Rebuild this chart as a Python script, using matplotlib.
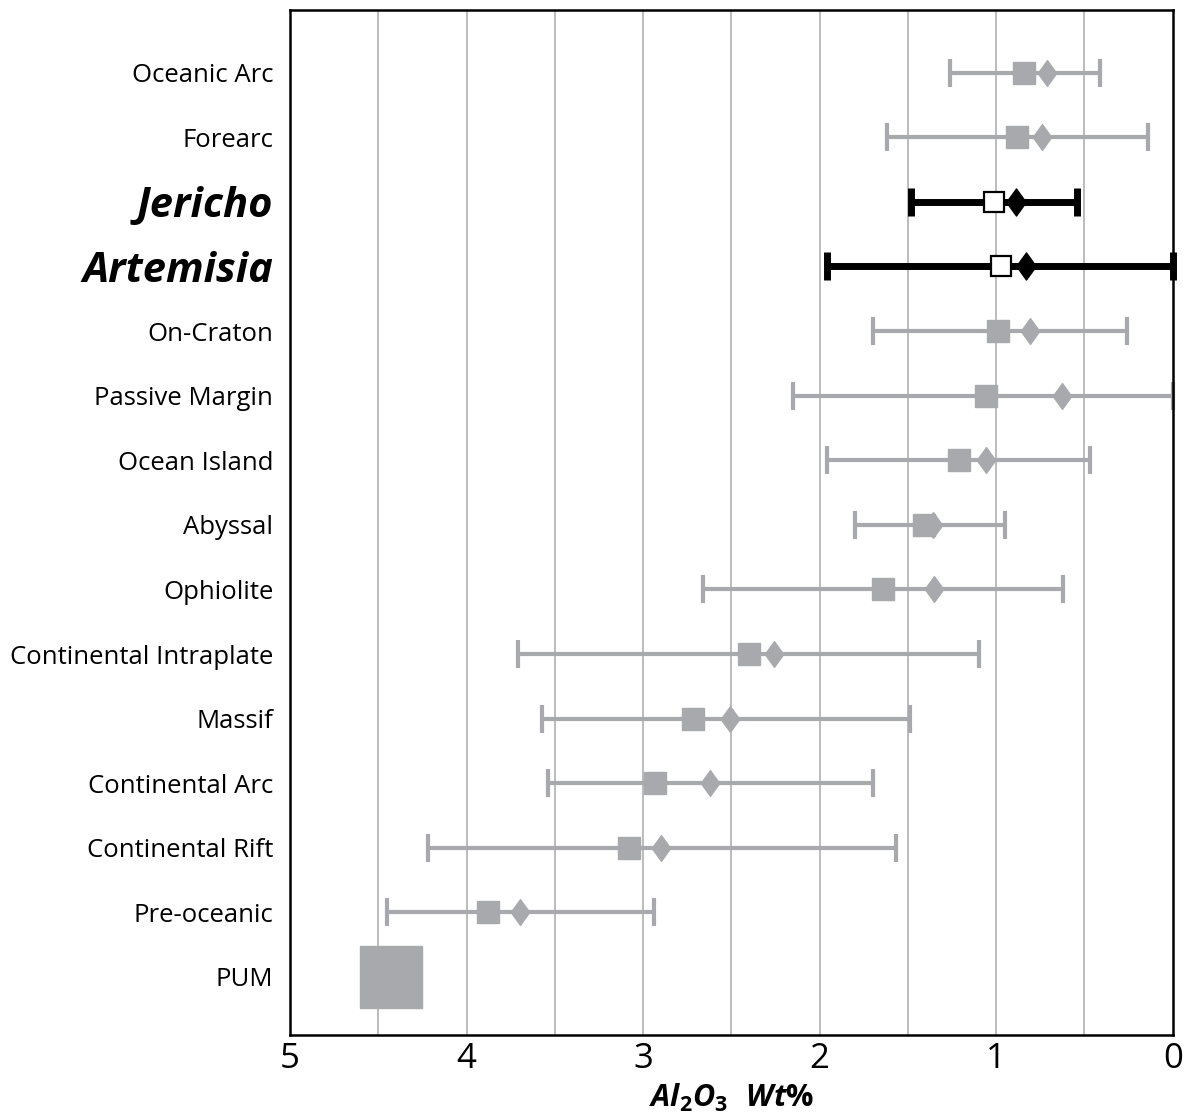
import numpy as np
import matplotlib
matplotlib.use("Agg")
import matplotlib.pyplot as plt
from matplotlib.path import Path

plt.rcParams["font.family"] = ["Open Sans", "DejaVu Sans"]
plt.rcParams["mathtext.fontset"] = "custom"
plt.rcParams["mathtext.it"] = "Open Sans:italic:bold"
plt.rcParams["mathtext.rm"] = "Open Sans:bold"

# ---- data (Al2O3 wt%) ----
categories = ["Oceanic Arc", "Forearc", "Jericho", "Artemisia", "On-Craton",
              "Passive Margin", "Ocean Island", "Abyssal", "Ophiolite",
              "Continental Intraplate", "Massif", "Continental Arc",
              "Continental Rift", "Pre-oceanic", "PUM"]
highlight = ["Jericho", "Artemisia"]
mean_vals = [0.84, 0.88, 1.01, 0.97, 0.99, 1.06, 1.21, 1.41, 1.64,
             2.40, 2.72, 2.93, 3.08, 3.88, 4.43]
median_vals = [0.71, 0.74, 0.89, 0.83, 0.81, 0.63, 1.06, 1.36, 1.35,
               2.26, 2.51, 2.62, 2.90, 3.70, np.nan]
range_low = [0.41, 0.14, 0.54, 0.0, 0.26, 0.0, 0.47, 0.95, 0.62,
             1.10, 1.49, 1.70, 1.57, 2.94, np.nan]
range_high = [1.26, 1.62, 1.48, 1.96, 1.70, 2.15, 1.96, 1.80, 2.66,
              3.71, 3.57, 3.54, 4.22, 4.45, np.nan]

GRAY = "#a7a9ac"
diamond = Path([(0, 1), (0.72, 0), (0, -1), (-0.72, 0), (0, 1)],
               [Path.MOVETO, Path.LINETO, Path.LINETO, Path.LINETO, Path.CLOSEPOLY])

fig = plt.figure(figsize=(11.87, 11.19), dpi=100)
ax = fig.add_axes([0.2443, 0.075, 0.7437, 0.916])

for xv in np.arange(0.5, 5.0, 0.5):
    ax.axvline(xv, color="#b0b0b0", lw=1.2, zorder=0)

for i, name in enumerate(categories):
    hl = name in highlight
    col = "black" if hl else GRAY
    lo, hi, m, md = range_low[i], range_high[i], mean_vals[i], median_vals[i]
    if name == "PUM":
        ax.plot(m, i, marker="s", ms=45, color=GRAY, mec=GRAY, zorder=3)
        continue
    ax.errorbar(m, i, xerr=[[m - lo], [hi - m]], fmt="none", ecolor=col,
                elinewidth=5 if hl else 3, capsize=10, capthick=5 if hl else 3,
                zorder=2, clip_on=False)
    if hl:
        ax.plot(m, i, marker="s", ms=14, mfc="white", mec="black", mew=1.6, zorder=3)
        ax.plot(md, i, marker=diamond, ms=19.5, color="black", zorder=4)
    else:
        ax.plot(m, i, marker="s", ms=15.5, color=GRAY, mec=GRAY, zorder=3)
        ax.plot(md, i, marker=diamond, ms=18.5, color=GRAY, mec=GRAY, zorder=4)

ax.set_xlim(5, 0)
ax.set_ylim(14.9, -0.97)
ax.set_xticks([5, 4, 3, 2, 1, 0])
ax.set_xticklabels(["5", "4", "3", "2", "1", "0"], fontsize=25)
ax.set_yticks(range(len(categories)))
ax.set_yticklabels(categories, fontsize=18.5)
for lab in ax.get_yticklabels():
    if lab.get_text() in highlight:
        lab.set_fontsize(30)
        lab.set_fontweight("bold")
        lab.set_fontstyle("italic")
ax.tick_params(axis="y", length=0, pad=12)
ax.tick_params(axis="x", length=0, pad=5)
for sp in ax.spines.values():
    sp.set_linewidth(1.8)
ax.set_xlabel(r"$Al_2O_3\ \ Wt\%$", fontsize=22, labelpad=4)

fig.savefig("out.png", dpi=100)
